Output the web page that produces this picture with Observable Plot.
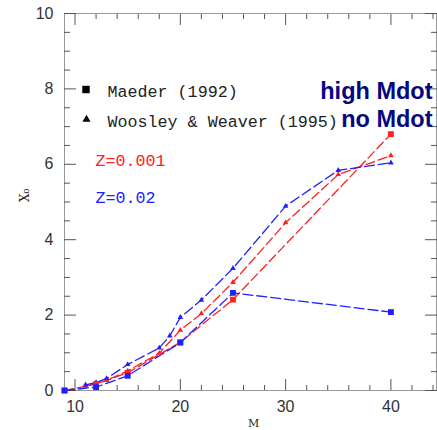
<!DOCTYPE html>
<html><head><meta charset="utf-8">
<script src="https://cdn.jsdelivr.net/npm/d3@7"></script>
<script src="https://cdn.jsdelivr.net/npm/@observablehq/plot@0.6"></script>
<style>body{margin:0;background:#fff}</style>
</head><body><div id="chart"></div>
<script>
// Maeder (1992) models (squares)
const massMaeder = [9, 12, 15, 20, 25, 40];
const xoMaederZ001 = [0.0, 0.17, 0.47, 1.28, 2.41, 6.80];
const xoMaederZ02 = [0.0, 0.09, 0.39, 1.27, 2.59, 2.08];
// Woosley & Weaver (1995) models (triangles)
const massWWZ001 = [11, 12, 13, 15, 18, 20, 22, 25, 30, 35, 40];
const xoWWZ001 = [0.11, 0.19, 0.27, 0.52, 0.99, 1.60, 2.04, 2.87, 4.45, 5.73, 6.23];
const massWWZ02 = [11, 12, 13, 15, 18, 19, 20, 22, 25, 30, 35, 40];
const xoWWZ02 = [0.15, 0.21, 0.32, 0.69, 1.13, 1.45, 1.94, 2.40, 3.24, 4.89, 5.84, 6.04];

const xMajor = [10, 20, 30, 40];
const xMinor = [12, 14, 16, 18, 22, 24, 26, 28, 32, 34, 36, 38, 42, 44];
const yMajor = [0, 2, 4, 6, 8, 10];
const yMinor = [0.5, 1, 1.5, 2.5, 3, 3.5, 4.5, 5, 5.5, 6.5, 7, 7.5, 8.5, 9, 9.5];

const legendLabels = ["Maeder (1992)", "Woosley & Weaver (1995)"];
const zLabels = ["Z=0.001", "Z=0.02"];
const noteLabels = ["high Mdot", "no Mdot"];
const xLabel = ["M"];
const yLabel = ["X\u2080"];

const RED = "#ff2020", BLUE = "#2020ff", NAVY = "#06067e";
const rows = (ms, vs) => ms.map((m, i) => ({m, v: vs[i]}));
const maedZ001 = rows(massMaeder, xoMaederZ001);
const maedZ02 = rows(massMaeder, xoMaederZ02);
const wwZ001 = rows(massWWZ001, xoWWZ001);
const wwZ02 = rows(massWWZ02, xoWWZ02);

const tick = "#555";
const noText = () => "";
const mono = "Liberation Mono";

const chart = Plot.plot({
  width: 437, height: 430,
  marginLeft: 64, marginRight: 1, marginTop: 13, marginBottom: 40,
  style: {fontFamily: "Liberation Sans", background: "white", color: "#333"},
  x: {domain: [9, 44.33]},
  y: {domain: [0, 10]},
  marks: [
    Plot.frame({stroke: "#999"}),
    // inward ticks on all four sides
    Plot.axisX({ticks: xMinor, anchor: "bottom", tickSize: -5, tickFormat: noText, stroke: tick, label: null}),
    Plot.axisX({ticks: xMajor, anchor: "bottom", tickSize: -11, tickFormat: noText, stroke: tick, label: null}),
    Plot.axisX({ticks: xMinor, anchor: "top", tickSize: -5, tickFormat: noText, stroke: tick, label: null}),
    Plot.axisX({ticks: xMajor, anchor: "top", tickSize: -11, tickFormat: noText, stroke: tick, label: null}),
    Plot.axisY({ticks: yMinor, anchor: "left", tickSize: -6, tickFormat: noText, stroke: tick, label: null}),
    Plot.axisY({ticks: yMajor, anchor: "left", tickSize: -12, tickFormat: noText, stroke: tick, label: null}),
    Plot.axisY({ticks: yMinor, anchor: "right", tickSize: -6, tickFormat: noText, stroke: tick, label: null}),
    Plot.axisY({ticks: yMajor, anchor: "right", tickSize: -12, tickFormat: noText, stroke: tick, label: null}),
    // tick labels
    Plot.axisX({ticks: xMajor, anchor: "bottom", tickSize: 0, tickPadding: 10, fontSize: 16, label: null, fill: "#333"}),
    Plot.axisY({ticks: yMajor, anchor: "left", tickSize: 0, tickPadding: 11, fontSize: 16, label: null, fill: "#333"}),
    // axis titles
    Plot.text(xLabel, {frameAnchor: "bottom", dx: 3, dy: 36.5, lineAnchor: "bottom", fontSize: 11, fontFamily: "DejaVu Serif", fill: "#222"}),
    Plot.text(yLabel, {frameAnchor: "left", dx: -36, dy: 0, rotate: -90, lineAnchor: "bottom", fontSize: 12, fontFamily: "DejaVu Serif", fill: "#222"}),
    // series lines
    Plot.line(maedZ001, {x: "m", y: "v", stroke: RED, strokeWidth: 1.3, strokeDasharray: "9,4"}),
    Plot.line(wwZ001, {x: "m", y: "v", stroke: RED, strokeWidth: 1.3, strokeDasharray: "9,4"}),
    Plot.line(maedZ02, {x: "m", y: "v", stroke: BLUE, strokeWidth: 1.3, strokeDasharray: "10,4"}),
    Plot.line(wwZ02, {x: "m", y: "v", stroke: BLUE, strokeWidth: 1.3, strokeDasharray: "10,4"}),
    // markers
    Plot.dot(wwZ001, {x: "m", y: "v", symbol: "triangle", r: 2.1, fill: RED}),
    Plot.dot(wwZ02, {x: "m", y: "v", symbol: "triangle", r: 2.1, fill: BLUE}),
    Plot.dot(maedZ001, {x: "m", y: "v", symbol: "square", r: 3.3, fill: RED}),
    Plot.dot(maedZ02, {x: "m", y: "v", symbol: "square", r: 3.3, fill: BLUE}),
    // legend
    Plot.dot([legendLabels[0]], {frameAnchor: "top-left", dx: 21.5, dy: 76, symbol: "square", r: 4.2, fill: "#000"}),
    Plot.dot([legendLabels[1]], {frameAnchor: "top-left", dx: 22, dy: 106, symbol: "triangle", r: 3, fill: "#000"}),
    Plot.text([legendLabels[0]], {frameAnchor: "top-left", dx: 43, dy: 83.5, textAnchor: "start", lineAnchor: "bottom", fontSize: 16.7, fontFamily: mono, fill: "#222"}),
    Plot.text([legendLabels[1]], {frameAnchor: "top-left", dx: 43, dy: 113.5, textAnchor: "start", lineAnchor: "bottom", fontSize: 16.7, fontFamily: mono, fill: "#222"}),
    Plot.text([zLabels[0]], {frameAnchor: "top-left", dx: 31, dy: 152.5, textAnchor: "start", lineAnchor: "bottom", fontSize: 16.7, fontFamily: mono, fill: RED}),
    Plot.text([zLabels[1]], {frameAnchor: "top-left", dx: 31, dy: 189, textAnchor: "start", lineAnchor: "bottom", fontSize: 16.7, fontFamily: mono, fill: BLUE}),
    // annotations
    Plot.text([noteLabels[0]], {frameAnchor: "top-right", dx: -4, dy: 85, textAnchor: "end", lineAnchor: "bottom", fontSize: 23.5, fontWeight: "bold", fontFamily: "Liberation Sans", fill: NAVY}),
    Plot.text([noteLabels[1]], {frameAnchor: "top-right", dx: -4, dy: 113, textAnchor: "end", lineAnchor: "bottom", fontSize: 23.5, fontWeight: "bold", fontFamily: "Liberation Sans", fill: NAVY})
  ]
});
document.getElementById("chart").append(chart);
</script>
</body></html>
